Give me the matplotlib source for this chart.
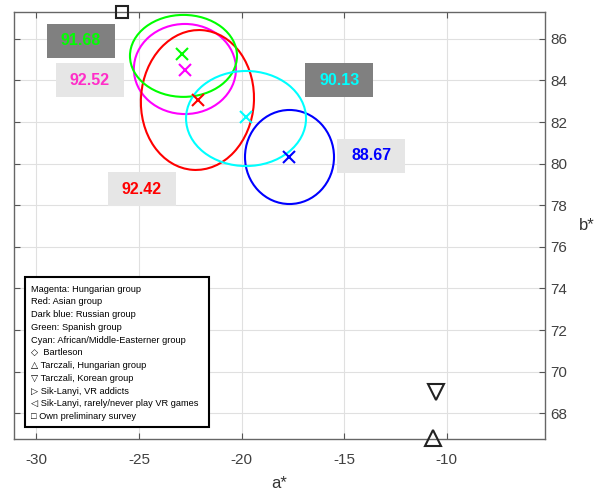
import matplotlib.pyplot as plt
from matplotlib.patches import Ellipse, Rectangle

plt.rcParams['font.family'] = ['Liberation Sans', 'DejaVu Sans']
plt.rcParams['axes.unicode_minus'] = False

# group colours and data (a*, b*)
groups = ['Hungarian', 'Asian', 'Russian', 'Spanish', 'African/Middle-Easterner']
colors = ['magenta', 'red', 'blue', 'lime', 'cyan']
mean_a = [-22.76, -22.12, -17.70, -22.90, -19.78]
mean_b = [84.50, 83.06, 80.34, 85.27, 82.22]

# ellipses around each group
ell_a = [-22.76, -22.15, -17.66, -22.83, -19.78]
ell_b = [84.55, 83.06, 80.32, 85.18, 82.17]
ell_w = [4.98, 5.51, 4.34, 5.22, 5.85]
ell_h = [4.33, 6.73, 4.52, 3.94, 4.57]
ell_angle = [0, -4, 0, 0, 0]

# percentage labels
label_text = ['92.52', '92.42', '88.67', '91.68', '90.13']
label_a = [-27.41, -24.86, -13.68, -27.84, -15.24]
label_b = [84.02, 78.76, 80.37, 85.90, 84.00]
label_color = ['#ff2ec8', 'red', 'blue', 'lime', 'cyan']
label_bg = ['#e6e6e6', '#e6e6e6', '#e6e6e6', '#808080', '#808080']

# literature points visible in the plot
lit_a = [-25.83, -10.51, -10.66]
lit_b = [87.29, 69.0, 66.8]
lit_marker = ['s', 'v', '^']
lit_size = [8, 11, 11]

legend_lines = ['Magenta: Hungarian group',
                'Red: Asian group',
                'Dark blue: Russian group',
                'Green: Spanish group',
                'Cyan: African/Middle-Easterner group',
                '\u25C7  Bartleson',
                '\u25B3 Tarczali, Hungarian group',
                '\u25BD Tarczali, Korean group',
                '\u25B7 Sik-Lanyi, VR addicts',
                '\u25C1 Sik-Lanyi, rarely/never play VR games',
                '\u25A1 Own preliminary survey']

fig = plt.figure(figsize=(6, 4.9), dpi=100)
ax = fig.add_axes([13.5/600, (490-439.3)/490, (545-13.5)/600, (439.3-12)/490])

ax.set_xlim(-31.12, -5.2)
ax.set_ylim(66.75, 87.29)
ax.set_xticks([-30, -25, -20, -15, -10])
ax.set_yticks(range(68, 87, 2))
ax.grid(True, color='#e0e0e0', lw=0.8)
ax.set_axisbelow(True)

for i in range(len(groups)):
    e = Ellipse((ell_a[i], ell_b[i]), ell_w[i], ell_h[i], angle=ell_angle[i],
                fill=False, edgecolor=colors[i], lw=1.5)
    ax.add_patch(e)
    ax.plot(mean_a[i], mean_b[i], 'x', color=colors[i], ms=8, mew=1.5)

bw, bh = 3.32, 1.63
for i in range(len(label_text)):
    ax.add_patch(Rectangle((label_a[i] - bw/2, label_b[i] - bh/2), bw, bh,
                           facecolor=label_bg[i], edgecolor='none', zorder=3))
    ax.text(label_a[i], label_b[i], label_text[i], color=label_color[i],
            fontsize=11.5, fontweight='bold', ha='center', va='center', zorder=4)

for i in range(len(lit_a)):
    ax.plot(lit_a[i], lit_b[i], lit_marker[i], ms=lit_size[i], mfc='none',
            mec='#222222', mew=1.5, clip_on=False, zorder=5)

ax.tick_params(direction='in', length=4, top=True, right=True, left=True,
               bottom=True, labelleft=False, labelright=True,
               labelsize=11, labelcolor='#404040', color='#555555', pad=4)
ax.tick_params(axis='x', pad=10)
for s in ax.spines.values():
    s.set_color('#666666')
    s.set_linewidth(1.0)

ax.set_xlabel('a*', fontsize=12, color='#333333', labelpad=6)
ax.yaxis.set_label_position('right')
ax.set_ylabel('b*', fontsize=12, color='#333333', rotation=0,
              va='center', labelpad=14)

# text box legend
fig.patches.append(Rectangle((25/600, 1 - 427/490), 184/600, 150/490,
                             transform=fig.transFigure, fill=True,
                             facecolor='white', edgecolor='black', lw=1.5,
                             zorder=10))
for i, line in enumerate(legend_lines):
    fig.text(31/600, 1 - (289 + i*12.77)/490, line, fontsize=6.7,
             va='center', ha='left', color='black', zorder=11)

fig.savefig('out.png', dpi=100)
